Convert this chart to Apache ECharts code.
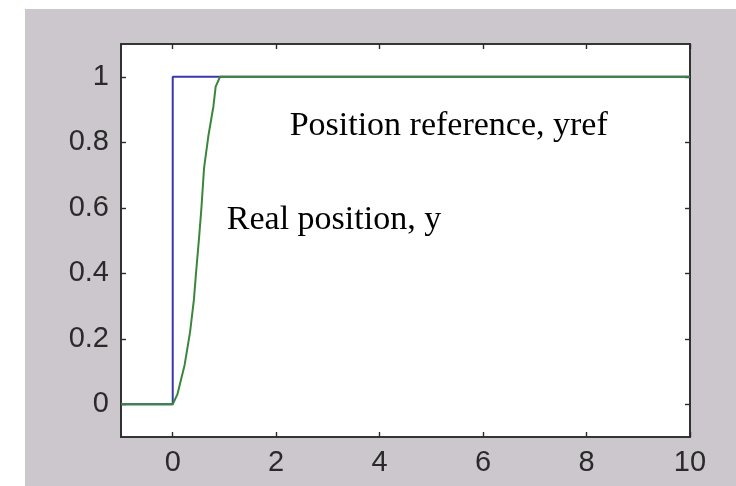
<!DOCTYPE html>
<html>
<head>
<meta charset="utf-8">
<script src="https://cdn.jsdelivr.net/npm/echarts@6/dist/echarts.min.js"></script>
<style>
  html, body { margin: 0; padding: 0; background: #ffffff; }
  #chart { width: 736px; height: 486px; }
</style>
</head>
<body>
<div id="chart"></div>
<script>
// Step response: position reference vs. real position
const xTicks = [0, 2, 4, 6, 8, 10];
const yTicks = [0, 0.2, 0.4, 0.6, 0.8, 1];

// Reference (unit step at t = 0)
const refT = [-1, 0, 0, 10];
const refY = [0, 0, 1, 1];

// Measured position
const realT = [-1, 0, 0.09, 0.23, 0.335, 0.41, 0.45, 0.51, 0.555, 0.605, 0.69, 0.787, 0.83, 0.915, 10];
const realY = [0, 0, 0.03, 0.12, 0.22, 0.32, 0.40, 0.51, 0.60, 0.72, 0.82, 0.91, 0.97, 1.0, 1.0];

const zip = (a, b) => a.map((v, i) => [v, b[i]]);

const chart = echarts.init(document.getElementById('chart'), null, { renderer: 'canvas' });

const tickFont = { fontFamily: 'Liberation Sans, Arial, sans-serif', fontSize: 29, color: '#2a2a2a' };
const frameLine = { show: true, onZero: false, lineStyle: { color: '#2b2b2b', width: 1.6 } };
const tickLine = { color: '#2b2b2b', width: 1.4 };

const option = {
  backgroundColor: '#ffffff',
  animation: false,
  grid: {
    left: 121, right: 46, top: 44, bottom: 49,
    show: true, backgroundColor: '#ffffff', borderColor: '#2b2b2b', borderWidth: 1.6
  },
  xAxis: [
    {
      type: 'value', position: 'bottom', min: -1, max: 10,
      axisLine: frameLine,
      axisTick: { show: true, inside: true, length: 5, customValues: xTicks, lineStyle: tickLine },
      axisLabel: Object.assign({ margin: 11, customValues: xTicks }, tickFont),
      splitLine: { show: false }
    },
    {
      type: 'value', position: 'top', min: -1, max: 10,
      axisLine: frameLine,
      axisTick: { show: true, inside: true, length: 5, customValues: xTicks, lineStyle: tickLine },
      axisLabel: { show: false },
      splitLine: { show: false }
    }
  ],
  yAxis: [
    {
      type: 'value', position: 'left', min: -0.1, max: 1.1,
      axisLine: frameLine,
      axisTick: { show: true, inside: true, length: 5, customValues: yTicks, lineStyle: tickLine },
      axisLabel: Object.assign({ margin: 12, customValues: yTicks }, tickFont),
      splitLine: { show: false }
    },
    {
      type: 'value', position: 'right', min: -0.1, max: 1.1,
      axisLine: frameLine,
      axisTick: { show: true, inside: true, length: 5, customValues: yTicks, lineStyle: tickLine },
      axisLabel: { show: false },
      splitLine: { show: false }
    }
  ],
  series: [
    {
      name: 'yref', type: 'line', xAxisIndex: 0, yAxisIndex: 0,
      data: zip(refT, refY), showSymbol: false, symbol: 'none',
      lineStyle: { color: '#3838aa', width: 2 }, z: 3
    },
    {
      name: 'y', type: 'line', xAxisIndex: 0, yAxisIndex: 0,
      data: zip(realT, realY), showSymbol: false, symbol: 'none',
      lineStyle: { color: '#3a863a', width: 2 }, z: 4
    }
  ]
};

chart.setOption(option);

// Surrounding gray panel and the two annotations
const annFont = '34px "Liberation Serif", "Times New Roman", serif';
const posRef = chart.convertToPixel({ xAxisIndex: 0, yAxisIndex: 0 }, [2.26, 0.849]);
const posReal = chart.convertToPixel({ xAxisIndex: 0, yAxisIndex: 0 }, [1.045, 0.562]);

chart.setOption({
  graphic: [
    {
      type: 'rect', left: 25, top: 9, z: -100, silent: true,
      shape: { width: 711, height: 477 },
      style: { fill: '#ccc7cc' }
    },
    {
      type: 'text', x: posRef[0], y: posRef[1], z: 100, silent: true,
      style: { text: 'Position reference, yref', font: annFont, fill: '#000', textAlign: 'left', textVerticalAlign: 'middle' }
    },
    {
      type: 'text', x: posReal[0], y: posReal[1], z: 100, silent: true,
      style: { text: 'Real position, y', font: annFont, fill: '#000', textAlign: 'left', textVerticalAlign: 'middle' }
    }
  ]
});
</script>
</body>
</html>
